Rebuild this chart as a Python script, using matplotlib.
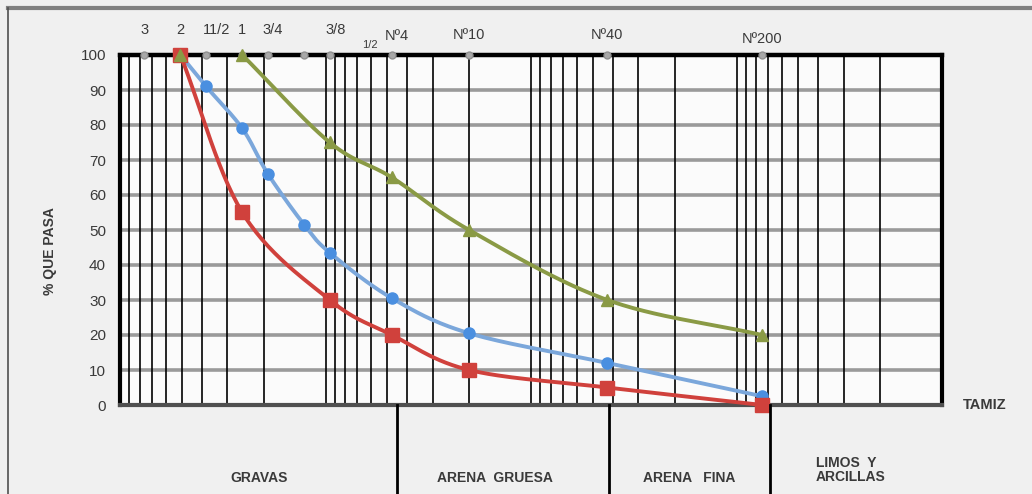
#!/usr/bin/env python3

import numpy as np
from matplotlib import pyplot as plt
from matplotlib.lines import Line2D
from matplotlib.ticker import LogLocator, NullFormatter, FixedLocator

# Sieve openings (mm) and names shown along the top
sieve_mm = [76.2, 50.8, 38.1, 25.4, 19.05, 12.7, 9.525, 4.75, 2.0, 0.425, 0.075]
top_labels = ["3", "2", "11/2", "1", "3/4", "1/2", "3/8", "N\u00ba4", "N\u00ba10",
              "N\u00ba40", "N\u00ba200"]

# Gradation curves (% passing)
blue_mm = [50.8, 38.1, 25.4, 19.05, 12.7, 9.525, 4.75, 2.0, 0.425, 0.075]
blue_pct = [100, 91, 79, 66, 51.5, 43.5, 30.5, 20.5, 12, 2.5]

red_mm = [50.8, 25.4, 9.525, 4.75, 2.0, 0.425, 0.075]
red_pct = [100, 55, 30, 20, 10, 5, 0]

green_mm = [50.8, 25.4, 9.525, 4.75, 2.0, 0.425, 0.075]
green_pct = [100, 100, 75, 65, 50, 30, 20]

# Soil fractions below the axis
zone_limits = [4.5, 0.415, 0.069]
zone_names = ["GRAVAS", "ARENA  GRUESA", "ARENA   FINA", "LIMOS  Y\nARCILLAS"]
zone_centers = [21.0, 1.5, 0.17, 0.041]

BG = "#f0f0f0"
RED = "#d0413c"
BLUE = "#4a8fe0"
BLUE_LINE = "#7ba7db"
GREEN = "#8a9a45"
TXT = "#3a3a3a"
FONT = ["Liberation Sans", "DejaVu Sans"]


def smooth(xs, ys, n=30):
    """Catmull-Rom curve through the points, in log10(x) space."""
    lx = np.log10(xs)
    ys = np.asarray(ys, dtype=float)
    if len(lx) < 3:
        return np.asarray(xs, dtype=float), ys
    px = np.concatenate([[2 * lx[0] - lx[1]], lx, [2 * lx[-1] - lx[-2]]])
    py = np.concatenate([[2 * ys[0] - ys[1]], ys, [2 * ys[-1] - ys[-2]]])
    t = np.linspace(0, 1, n)
    out_x, out_y = [], []
    for i in range(1, len(px) - 2):
        for p, out in ((px, out_x), (py, out_y)):
            p0, p1, p2, p3 = p[i - 1], p[i], p[i + 1], p[i + 2]
            out.extend(0.5 * (2 * p1 + (-p0 + p2) * t
                              + (2 * p0 - 5 * p1 + 4 * p2 - p3) * t ** 2
                              + (-p0 + 3 * p1 - 3 * p2 + p3) * t ** 3))
    return 10 ** np.array(out_x), np.array(out_y)


def smooth_series(xs, ys):
    """Flat run at 100 % is kept straight, the rest is smoothed."""
    k = 0
    while k + 1 < len(ys) and ys[k + 1] == ys[0]:
        k += 1
    sx, sy = smooth(xs[k:], ys[k:])
    return (np.concatenate([xs[:k], sx]), np.concatenate([ys[:k], sy]))


def main():
    fig = plt.figure(figsize=(10.32, 4.94), dpi=100, facecolor=BG)
    ax = fig.add_axes([120 / 1032, 89 / 494, 822 / 1032, 350 / 494])
    ax.set_facecolor("#fbfbfb")

    ax.set_xscale("log")
    ax.set_xlim(100, 0.01)
    ax.set_ylim(0, 100)

    # black vertical log grid
    ax.xaxis.set_major_locator(LogLocator(base=10))
    ax.xaxis.set_minor_locator(LogLocator(base=10, subs=np.arange(2, 10)))
    ax.xaxis.set_major_formatter(NullFormatter())
    ax.xaxis.set_minor_formatter(NullFormatter())
    ax.tick_params(axis="x", which="both", length=0)
    ax.grid(True, axis="x", which="both", color="black", lw=1.2, zorder=1)

    # gray horizontal grid
    ax.yaxis.set_major_locator(FixedLocator(np.arange(0, 101, 10)))
    ax.tick_params(axis="y", length=0, pad=10, labelsize=11, labelcolor=TXT)
    for lab in ax.get_yticklabels():
        lab.set_family(FONT)
    for v in np.arange(10, 100, 10):
        ax.axhline(v, color="#9a9a9a", lw=2.6, zorder=1.5)

    for side in ("left", "right"):
        ax.spines[side].set_linewidth(3)
    ax.spines["top"].set_linewidth(3.2)
    ax.spines["top"].set_zorder(4.6)
    ax.spines["bottom"].set_linewidth(3)
    ax.spines["bottom"].set_color("#505050")

    # sieve row along the top (line hidden by the frame, dots on it)
    ax.plot(sieve_mm, [100] * len(sieve_mm), color="#a0a0a0", lw=1.5,
            zorder=3, clip_on=False)
    ax.plot(sieve_mm, [100] * len(sieve_mm), ls="none", marker="o", ms=5,
            mfc="#a8a8a8", mec="#909090", zorder=4.7, clip_on=False)

    # curves: blue first, then red, green on top
    series = ((blue_mm, blue_pct, BLUE, BLUE_LINE, "o", 8),
              (red_mm, red_pct, RED, RED, "s", 10),
              (green_mm, green_pct, GREEN, GREEN, "^", 9))
    for i, (xs, ys, c, lc, mk, ms) in enumerate(series):
        sx, sy = smooth_series(xs, ys)
        ax.plot(sx, sy, color=lc, lw=2.8, zorder=4 + i * 0.1, clip_on=False)
        ax.plot(xs, ys, ls="none", marker=mk, ms=ms, color=c,
                zorder=5 + i * 0.1, clip_on=False)

    # labels on top
    top_tr = ax.get_xaxis_transform()
    label_pos = {"3": (76.2, 1.051), "2": (50.8, 1.051), "11/2": (34.0, 1.051),
                 "1": (25.4, 1.051), "3/4": (18.0, 1.051), "3/8": (8.9, 1.051),
                 "1/2": (6.1, 1.015), "N\u00ba4": (4.5, 1.034),
                 "N\u00ba10": (2.0, 1.037), "N\u00ba40": (0.425, 1.037),
                 "N\u00ba200": (0.075, 1.026)}
    for lab in top_labels:
        x, y = label_pos[lab]
        size = 8 if lab == "1/2" else 10.5
        ax.text(x, y, lab, transform=top_tr, ha="center", va="bottom",
                fontsize=size, color=TXT, family=FONT)

    ax.set_ylabel("% QUE PASA", fontsize=10, fontweight="bold", color=TXT,
                  family=FONT)
    ax.yaxis.set_label_coords(-0.077, 0.44)
    ax.text(1.025, 0.0, "TAMIZ", transform=ax.transAxes, ha="left",
            va="center", fontsize=10.5, fontweight="bold", color=TXT,
            family=FONT)

    # fraction boundaries and names below the axis
    for x in zone_limits:
        ax.plot([x, x], [0, -0.26], transform=top_tr, color="black", lw=2,
                clip_on=False, zorder=6)
    for i, (x, name) in enumerate(zip(zone_centers, zone_names)):
        last = i == len(zone_names) - 1
        ax.text(x, -0.186 if last else -0.209, name, transform=top_tr,
                ha="left" if last else "center", va="center",
                fontsize=10, fontweight="bold", color=TXT, family=FONT,
                linespacing=1.0)

    # figure frame
    fig.add_artist(Line2D([8 / 1032, 1], [1 - 8 / 494] * 2,
                          transform=fig.transFigure, color="#808080", lw=3))
    fig.add_artist(Line2D([8 / 1032] * 2, [0, 1 - 8 / 494],
                          transform=fig.transFigure, color="#505050", lw=1.2))

    fig.savefig("out.png", dpi=100, facecolor=BG)


if __name__ == "__main__":
    main()
